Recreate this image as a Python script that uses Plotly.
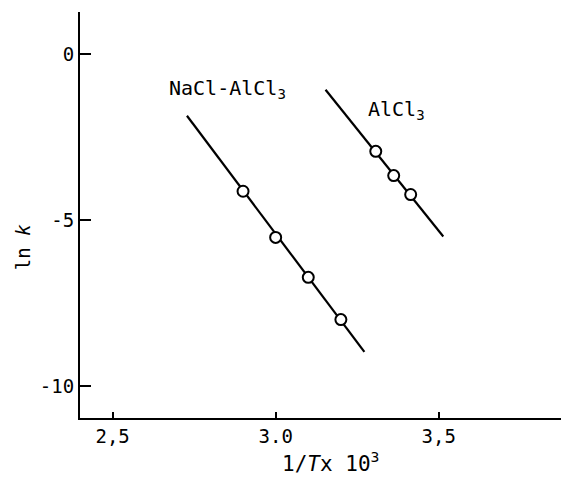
import plotly.graph_objects as go

# Data
nacl_x = [2.90, 3.00, 3.10, 3.20]
nacl_y = [-4.13, -5.52, -6.72, -7.99]
nacl_fit_x = [2.728, 3.272]
nacl_fit_y = [-1.86, -8.96]

alcl_x = [3.307, 3.362, 3.414]
alcl_y = [-2.93, -3.66, -4.23]
alcl_fit_x = [3.153, 3.514]
alcl_fit_y = [-1.08, -5.49]

x_ticks = [2.5, 3.0, 3.5]
x_tick_text = ["2,5", "3.0", "3,5"]
y_ticks = [0, -5, -10]
y_tick_text = ["0", "-5", "-10"]

FONT = "DejaVu Sans Mono"
fig = go.Figure()
for fx, fy in [(nacl_fit_x, nacl_fit_y), (alcl_fit_x, alcl_fit_y)]:
    fig.add_trace(go.Scatter(x=fx, y=fy, mode="lines",
                             line=dict(color="black", width=2.2), showlegend=False))
for px, py in [(nacl_x, nacl_y), (alcl_x, alcl_y)]:
    fig.add_trace(go.Scatter(x=px, y=py, mode="markers",
                             marker=dict(symbol="circle", size=11, color="white",
                                         line=dict(color="black", width=2)),
                             showlegend=False))

fig.add_annotation(x=2.853, y=-1.05, text="NaCl-AlCl<sub>3</sub>", showarrow=False,
                   font=dict(family=FONT, size=20, color="black"))
fig.add_annotation(x=3.37, y=-1.68, text="AlCl<sub>3</sub>", showarrow=False,
                   font=dict(family=FONT, size=20, color="black"))
fig.add_annotation(xref="paper", yref="paper", x=-0.117, y=0.42,
                   text="ln <i>k</i>", textangle=-90, showarrow=False,
                   xanchor="center", yanchor="middle",
                   font=dict(family=FONT, size=19, color="black"))
fig.add_annotation(xref="paper", yref="paper", x=0.52, y=-0.07,
                   text="1/<i>T</i>x 10<sup>3</sup>", showarrow=False,
                   xanchor="center", yanchor="top",
                   font=dict(family=FONT, size=21, color="black"))

fig.update_layout(
    width=561, height=485,
    margin=dict(l=80, r=0, t=12, b=67),
    plot_bgcolor="white", paper_bgcolor="white",
    font=dict(family=FONT, size=19, color="black"),
    xaxis=dict(range=[2.4, 3.875], tickvals=x_ticks, ticktext=x_tick_text,
               ticks="inside", ticklen=6, tickwidth=2, tickcolor="black",
               showline=True, linewidth=2, linecolor="black", showgrid=False,
               zeroline=False),
    yaxis=dict(range=[-10.95, 1.26], tickvals=y_ticks, ticktext=y_tick_text,
               ticks="inside", ticklen=11, tickwidth=2, tickcolor="black",
               showline=True, linewidth=2, linecolor="black", showgrid=False,
               zeroline=False),
)
fig.write_html("out.html")
